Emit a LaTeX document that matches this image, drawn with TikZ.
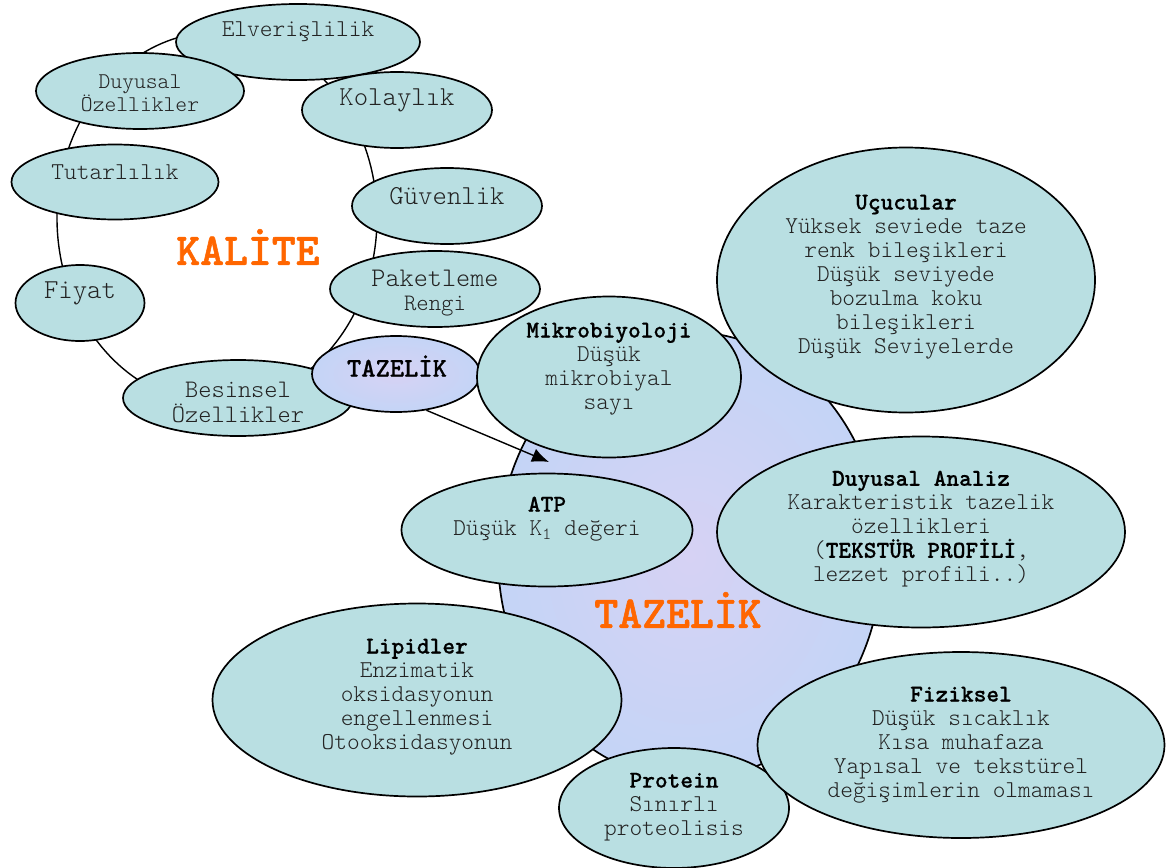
\documentclass[tikz,border=0pt]{standalone}
\usepackage{fontspec}
\setmainfont{Latin Modern Mono Light}
\usetikzlibrary{shapes.geometric,arrows.meta}
\definecolor{elfill}{RGB}{185,223,226}
\definecolor{tzfill}{RGB}{196,212,246}
\definecolor{tzfillb}{RGB}{214,210,244}
\definecolor{orng}{RGB}{255,102,0}
\definecolor{txtgray}{RGB}{35,35,35}
\newcommand\hdr[1]{\textcolor{black}{\bfseries\addfontfeature{FakeBold=0.6}#1}}
\begin{document}
\begin{tikzpicture}[x=1pt,y=-1pt,
  el/.style={ellipse, draw, line width=1.7pt, fill=elfill, inner sep=0pt},
  tz/.style={ellipse, draw, line width=1.7pt, inner color=tzfillb, outer color=tzfill, inner sep=0pt},
  lbl/.style={align=center, text=txtgray, inner sep=0pt, font=\fontsize{24.2}{24}\selectfont},
  big/.style={text=orng, inner sep=0pt, font=\fontsize{45.5}{48}\selectfont\bfseries\addfontfeature{FakeBold=1.2}},
  conn/.style={line width=1.4pt}]
\useasboundingbox (0,0) rectangle (1166,867);

% KALITE ring
\draw[conn] (217,218) ellipse [x radius=160, y radius=186];

% small ellipses around KALITE
\node[el, minimum width=244pt, minimum height=76pt] (elv) at (298,42) {};
\node[el, minimum width=208pt, minimum height=76pt] (duy) at (140,91) {};
\node[el, minimum width=190pt, minimum height=76pt] (kol) at (397,110) {};
\node[el, minimum width=207pt, minimum height=75pt] (tut) at (115,182) {};
\node[el, minimum width=190pt, minimum height=76pt] (guv) at (447,206) {};
\node[el, minimum width=129pt, minimum height=76pt] (fiy) at (80,303) {};
\node[el, minimum width=210pt, minimum height=76pt] (pak) at (435,289) {};
\node[el, minimum width=230pt, minimum height=76pt] (bes) at (238,398) {};
\node[tz, minimum width=168pt, minimum height=76pt] (tzs) at (396,374) {};

% big TAZELIK
\node[tz, minimum width=384pt, minimum height=448pt] (tzb) at (690,556) {};
\coordinate (arrend) at (549,462);
\draw[conn, -{Latex[length=17pt,width=14pt]}] (tzs.-50) -- (arrend);

% big ellipses
\node[el, minimum width=378pt, minimum height=265pt] (ucu) at (906,280) {};
\node[el, minimum width=264pt, minimum height=161pt] (mik) at (609,377) {};
\node[el, minimum width=408pt, minimum height=191pt] (dan) at (921,532) {};
\node[el, minimum width=291pt, minimum height=113pt] (atp) at (547,530) {};
\node[el, minimum width=409pt, minimum height=193pt] (lip) at (417,700) {};
\node[el, minimum width=230pt, minimum height=120pt] (pro) at (674,808) {};
\node[el, minimum width=407pt, minimum height=186pt] (fiz) at (961,745) {};

% texts
\node[lbl] (elvt) at (298,32) {Elverişlilik};
\node[lbl, font=\fontsize{22.5}{23}\selectfont] (duyt) at (140,93) {Duyusal\\Özellikler};
\node[lbl, font=\fontsize{27.4}{26}\selectfont] (kolt) at (397,100) {Kolaylık};
\node[lbl] (tutt) at (115,172) {Tutarlılık};
\node[lbl, font=\fontsize{27.4}{26}\selectfont] (guvt) at (447,196) {Güvenlik};
\node[lbl, font=\fontsize{27.4}{26}\selectfont] (fiyt) at (80,293) {Fiyat};
\node[lbl, font=\fontsize{26.9}{24}\selectfont] (pakt) at (435,293) {Paketleme\\{\fontsize{23.6}{24}\selectfont Rengi}};
\node[lbl, font=\fontsize{25.2}{25}\selectfont] (best) at (238,402) {Besinsel\\Özellikler};
\node[lbl, font=\fontsize{27.2}{26}\selectfont] (tzst) at (397,366) {\hdr{TAZELİK}};
\node[big] (kalt) at (248,247) {KALİTE};
\node[big] (tzbt) at (678,610) {TAZELİK};

\node[lbl] (ucut) at (906,277) {\hdr{Uçucular}\\Yüksek seviede taze\\renk bileşikleri\\Düşük seviyede\\bozulma koku\\bileşikleri\\Düşük Seviyelerde};
\node[lbl] (mikt) at (609,369) {\hdr{Mikrobiyoloji}\\Düşük\\mikrobiyal\\sayı};
\node[lbl] (dant) at (921,529) {\hdr{Duyusal Analiz}\\Karakteristik tazelik\\özellikleri\\(\hdr{TEKSTÜR PROFİLİ},\\lezzet profili..)};
\node[lbl] (atpt) at (547,519) {\hdr{ATP}\\Düşük K\textsubscript{1} değeri};
\node[lbl] (lipt) at (417,697) {\hdr{Lipidler}\\Enzimatik\\oksidasyonun\\engellenmesi\\Otooksidasyonun};
\node[lbl] (prot) at (674,807) {\hdr{Protein}\\Sınırlı\\proteolisis};
\node[lbl] (fizt) at (961,745) {\hdr{Fiziksel}\\Düşük sıcaklık\\Kısa muhafaza\\Yapısal ve tekstürel\\değişimlerin olmaması};
\end{tikzpicture}
\end{document}
